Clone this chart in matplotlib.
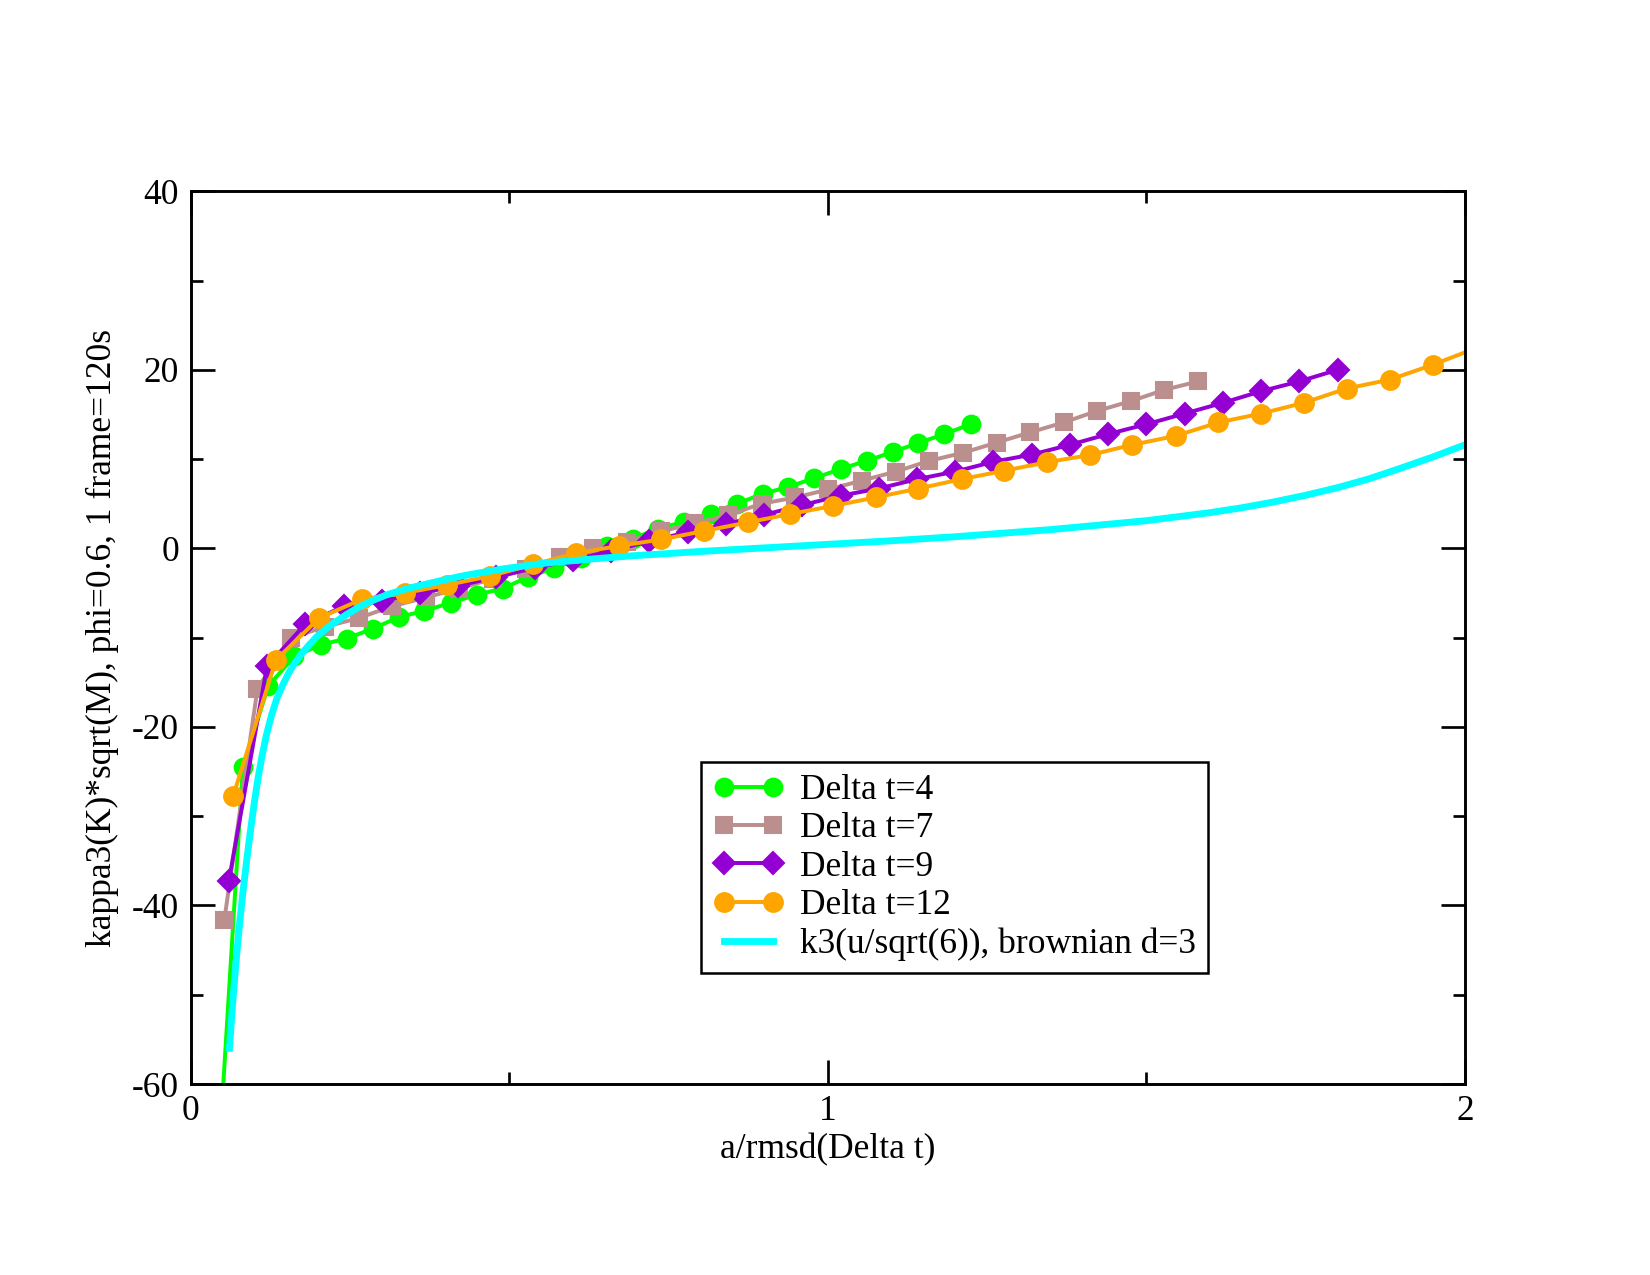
import numpy as np
import matplotlib
matplotlib.use('Agg')
import matplotlib.pyplot as plt

plt.rcParams['font.family'] = ['Liberation Serif', 'DejaVu Serif']
plt.rcParams['axes.unicode_minus'] = False

# Delta t=4
x4 = [0.041, 0.082, 0.122, 0.163, 0.204, 0.245, 0.286, 0.327, 0.367, 0.408,
      0.449, 0.490, 0.530, 0.571, 0.612, 0.653, 0.694, 0.734, 0.775, 0.816,
      0.857, 0.898, 0.938, 0.979, 1.020, 1.061, 1.102, 1.142, 1.183, 1.224]
y4 = [-72.0, -24.5, -15.4, -12.1, -10.8, -10.1, -9.0, -7.7, -7.0, -6.1,
      -5.2, -4.5, -3.2, -2.2, -1.1, 0.3, 1.1, 2.2, 3.0, 3.9,
      5.0, 6.1, 6.9, 7.85, 8.9, 9.8, 10.8, 11.8, 12.8, 13.9]

# Delta t=7
x7 = [0.053, 0.105, 0.158, 0.211, 0.264, 0.316, 0.369, 0.422, 0.474, 0.527,
      0.580, 0.632, 0.685, 0.738, 0.791, 0.843, 0.896, 0.949, 1.001, 1.054,
      1.107, 1.159, 1.212, 1.265, 1.318, 1.370, 1.423, 1.476, 1.528, 1.581]
y7 = [-41.6, -15.7, -10.0, -8.8, -7.8, -6.5, -5.5, -4.5, -3.4, -2.35,
      -1.0, 0.0, 0.75, 1.9, 2.8, 3.7, 5.0, 5.7, 6.6, 7.6,
      8.6, 9.8, 10.7, 11.85, 13.0, 14.1, 15.4, 16.5, 17.75, 18.7]

# Delta t=9
x9 = [0.06, 0.12, 0.18, 0.24, 0.30, 0.36, 0.42, 0.48, 0.54, 0.60,
      0.66, 0.72, 0.78, 0.84, 0.90, 0.96, 1.02, 1.08, 1.14, 1.20,
      1.26, 1.32, 1.38, 1.44, 1.50, 1.56, 1.62, 1.68, 1.74, 1.80]
y9 = [-37.3, -13.2, -8.5, -6.5, -5.9, -5.0, -4.2, -3.2, -2.2, -1.3,
      -0.3, 0.8, 1.8, 2.7, 3.75, 4.85, 5.9, 6.7, 7.75, 8.6,
      9.7, 10.5, 11.6, 12.8, 13.9, 15.1, 16.3, 17.6, 18.7, 20.0]

# Delta t=12
x12 = [0.067, 0.134, 0.202, 0.269, 0.336, 0.403, 0.470, 0.538, 0.605, 0.672,
       0.739, 0.806, 0.874, 0.941, 1.008, 1.075, 1.142, 1.210, 1.277, 1.344,
       1.411, 1.478, 1.546, 1.613, 1.680, 1.747, 1.814, 1.882, 1.949, 2.016]
y12 = [-27.7, -12.5, -7.8, -5.7, -5.0, -4.1, -3.1, -1.8, -0.55, 0.27,
       1.0, 1.95, 2.9, 3.85, 4.75, 5.7, 6.7, 7.75, 8.7, 9.65,
       10.45, 11.6, 12.6, 14.1, 15.1, 16.3, 17.9, 18.9, 20.55, 22.4]

# k3(u/sqrt(6)), brownian d=3
xb = [0.061, 0.066, 0.071, 0.076, 0.082, 0.088, 0.094, 0.100, 0.106, 0.112,
      0.119, 0.127, 0.135, 0.144, 0.153, 0.162, 0.172, 0.185, 0.198, 0.211,
      0.224, 0.245, 0.266, 0.287, 0.308, 0.34, 0.37, 0.40, 0.433, 0.486,
      0.55, 0.62, 0.69, 0.80, 0.925, 1.0, 1.1, 1.2, 1.35, 1.5,
      1.6, 1.65, 1.7, 1.75, 1.8, 1.85, 1.9, 1.95, 2.0]
yb = [-56.0, -51.0, -46.6, -42.7, -38.6, -35.0, -31.6, -28.5, -25.7, -23.3,
      -20.9, -18.7, -16.9, -15.4, -14.1, -13.0, -12.0, -10.9, -9.9, -9.1,
      -8.4, -7.4, -6.5, -5.8, -5.2, -4.5, -4.0, -3.5, -3.0, -2.35,
      -1.7, -1.25, -0.85, -0.35, 0.15, 0.45, 0.85, 1.3, 2.1, 3.1,
      4.0, 4.55, 5.2, 5.95, 6.8, 7.8, 9.0, 10.25, 11.6]

fig = plt.figure(figsize=(11, 8.5), dpi=150)
ax = fig.add_axes([0.1155, 0.1498, 0.7724, 0.7002])

ax.plot(x4, y4, color='#00ff00', lw=1.9, marker='o', ms=8.5, label='Delta t=4')
ax.plot(x7, y7, color='#bc8f8f', lw=1.9, marker='s', ms=8, label='Delta t=7')
ax.plot(x9, y9, color='#9400d3', lw=1.9, marker='D', ms=7.5, label='Delta t=9')
ax.plot(x12, y12, color='#ffa500', lw=1.9, marker='o', ms=9, label='Delta t=12')
ax.plot(xb, yb, color='#00ffff', lw=3.3, label='k3(u/sqrt(6)), brownian d=3')

ax.set_xlim(0, 2)
ax.set_ylim(-60, 40)
ax.set_xticks([0, 1, 2])
ax.set_xticks([0.5, 1.5], minor=True)
ax.set_yticks([-60, -40, -20, 0, 20, 40])
ax.set_yticks([-50, -30, -10, 10, 30], minor=True)
ax.tick_params(which='both', direction='in', top=True, right=True, width=1.3, labelsize=17)
ax.tick_params(which='major', length=11.5, pad=5.5)
ax.tick_params(which='minor', length=5.8)
for s in ax.spines.values():
    s.set_linewidth(1.4)

ax.set_xlabel('a/rmsd(Delta t)', fontsize=17, labelpad=2)
ax.set_ylabel('kappa3(K)*sqrt(M), phi=0.6, 1 frame=120s', fontsize=17, labelpad=6)

leg = ax.legend(loc='lower left', bbox_to_anchor=(0.4004, 0.124), fontsize=17,
                numpoints=2, handlelength=2.0, handletextpad=0.45,
                labelspacing=0.15, borderpad=0.35,
                fancybox=False, framealpha=1, edgecolor='black', borderaxespad=0)
leg.get_frame().set_linewidth(1.2)

plt.savefig('out.png', dpi=150)
